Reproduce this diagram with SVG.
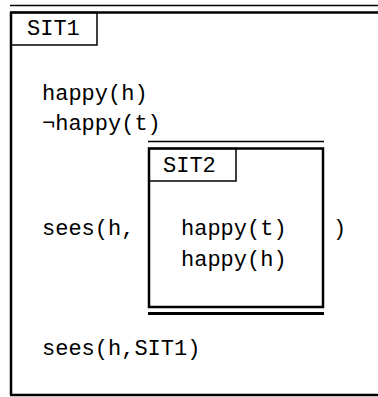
<svg xmlns="http://www.w3.org/2000/svg" width="378" height="397" viewBox="0 0 378 397">
<style>
  .t { font-family: "Liberation Mono", "DejaVu Sans Mono", monospace; font-size: 22px; fill: #000; }
  .thin { stroke: #000; stroke-width: 1.5; fill: none; }
  .thick { stroke: #000; stroke-width: 2.5; fill: none; }
</style>
<rect width="378" height="397" fill="#fff"/>
<g id="sit1">
  <line class="thin" x1="10" y1="5.5" x2="378" y2="5.5"/>
  <line class="thick" x1="10" y1="12.5" x2="378" y2="12.5"/>
  <line class="thick" x1="11" y1="12" x2="11" y2="395"/>
  <line class="thick" x1="10" y1="395" x2="378" y2="395"/>
  <rect class="thin" x="11" y="12.5" width="86" height="32.5"/>
  <text class="t" x="27" y="35">SIT1</text>
  <text class="t" x="42" y="100">happy(h)</text>
  <text class="t" x="42" y="130">¬happy(t)</text>
  <text class="t" x="42" y="235">sees(h,</text>
  <text class="t" x="333" y="235">)</text>
  <text class="t" x="42" y="355">sees(h,SIT1)</text>
</g>
<g id="sit2">
  <line class="thin" x1="148" y1="141.5" x2="324" y2="141.5"/>
  <rect class="thick" x="149" y="148.5" width="174" height="158.5"/>
  <line stroke="#000" stroke-width="3" x1="148" y1="313.5" x2="324" y2="313.5"/>
  <rect class="thin" x="149" y="148.5" width="87" height="32.5"/>
  <text class="t" x="163" y="172">SIT2</text>
  <text class="t" x="181" y="235">happy(t)</text>
  <text class="t" x="181" y="266">happy(h)</text>
</g>
<g id="connectors"></g>
</svg>
